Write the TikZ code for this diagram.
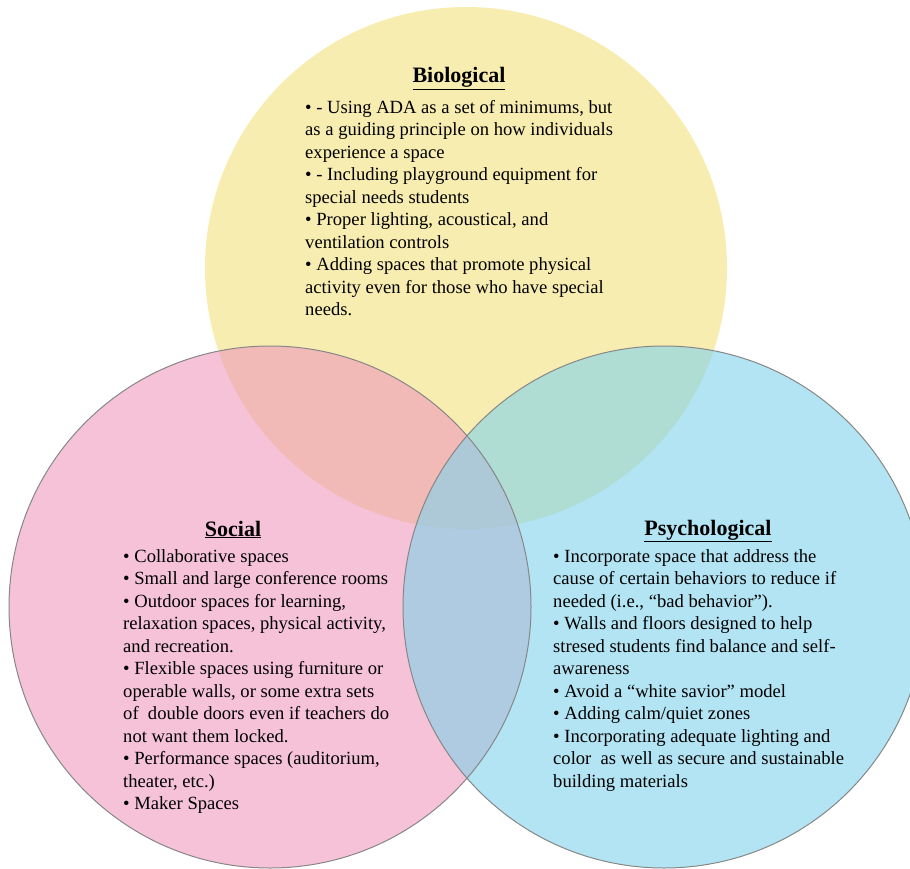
\documentclass[tikz,border=0pt]{standalone}
\usepackage{fontspec}
\setmainfont{Liberation Serif}

\definecolor{bioyellow}{RGB}{243,225,123}
\definecolor{socpink}{RGB}{238,153,188}
\definecolor{psyblue}{RGB}{128,210,235}
\definecolor{rimgray}{RGB}{135,135,135}

\begin{document}
\begin{tikzpicture}[x=1pt,y=-1pt,
    venn/.style={fill opacity=0.6},
    rim/.style={draw=rimgray,line width=1pt},
    head/.style={anchor=base,inner sep=0pt,font=\fontsize{22}{26}\selectfont\bfseries},
    items/.style={anchor=north west,align=left,inner sep=0pt,font=\fontsize{18.6}{22.5}\selectfont}]
  \useasboundingbox (0,0) rectangle (910,869);
  \clip (0,0) rectangle (910,869);

  \coordinate (bio) at (466,268);
  \coordinate (soc) at (270,607);
  \coordinate (psy) at (664,607);

  \fill[bioyellow,venn] (bio) circle[radius=261pt];
  \fill[socpink,venn] (soc) circle[radius=261pt];
  \fill[psyblue,venn] (psy) circle[radius=261pt];
  \draw[rim] (soc) circle[radius=261pt];   % pink rim
  \draw[rim] (psy) circle[radius=261pt];   % blue rim

  \node[head] (biohead) at (459,83) {\underline{Biological}};
  \node[items] (biotext) at (305,100) {%
    • - Using ADA as a set of minimums, but\\
    as a guiding principle on how individuals\\
    experience a space\\
    • - Including playground equipment for\\
    special needs students\\
    • Proper lighting, acoustical, and\\
    ventilation controls\\
    • Adding spaces that promote physical\\
    activity even for those who have special\\
    needs.};

  \node[head] (sochead) at (233,536) {\underline{Social}};
  \node[items] (soctext) at (123,549) {%
    • Collaborative spaces\\
    • Small and large conference rooms\\
    • Outdoor spaces for learning,\\
    relaxation spaces, physical activity,\\
    and recreation.\\
    • Flexible spaces using furniture or\\
    operable walls, or some extra sets\\
    of\ \ double doors even if teachers do\\
    not want them locked.\\
    • Performance spaces (auditorium,\\
    theater, etc.)\\
    • Maker Spaces};

  \node[head] (psyhead) at (708,535) {\underline{Psychological}};
  \node[items] (psytext) at (553,549) {%
    • Incorporate space that address the\\
    cause of certain behaviors to reduce if\\
    needed (i.e., “bad behavior”).\\
    • Walls and floors designed to help\\
    stresed students find balance and self-\\
    awareness\\
    • Avoid a “white savior” model\\
    • Adding calm/quiet zones\\
    • Incorporating adequate lighting and\\
    color\ \ as well as secure and sustainable\\
    building materials};
\end{tikzpicture}
\end{document}
